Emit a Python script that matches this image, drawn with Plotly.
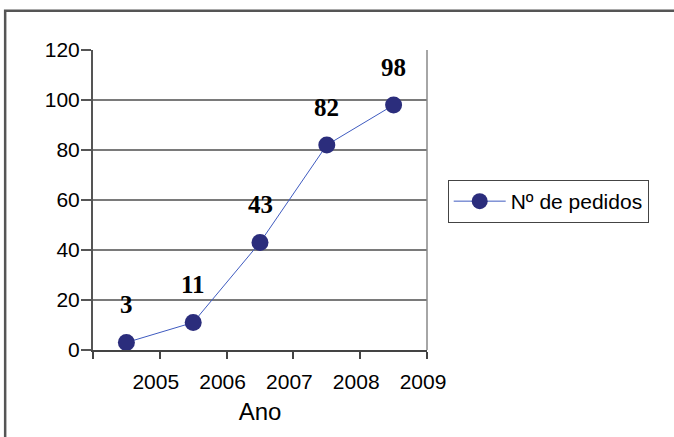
import plotly.graph_objects as go

# Data
years = ["2005", "2006", "2007", "2008", "2009"]
pedidos = [3, 11, 43, 82, 98]
series_name = "Nº de pedidos"
x_title = "Ano"
y_ticks = [0, 20, 40, 60, 80, 100, 120]

# category positions (points sit in the middle of each band)
x_pos = [i + 0.5 for i in range(len(pedidos))]
tick_pos = list(range(len(years) + 1))
tick_text = [""] + years

fig = go.Figure()
fig.add_trace(go.Scatter(
    x=x_pos, y=pedidos, mode="lines+markers", name=series_name,
    line=dict(color="#3F5BC0", width=1),
    marker=dict(color="#2B2D7C", size=17, line=dict(width=0)),
))

for xv, yv in zip(x_pos, pedidos):
    fig.add_annotation(
        x=xv, y=yv, text="<b>" + str(yv) + "</b>", showarrow=False, yshift=38,
        font=dict(family="Liberation Serif, Times New Roman", size=25, color="black"),
    )

fig.update_layout(
    width=674, height=437,
    margin=dict(l=93, r=247, t=50, b=87),
    paper_bgcolor="white", plot_bgcolor="white",
    font=dict(family="Liberation Sans, Arial", size=21, color="black"),
    showlegend=True,
    legend=dict(
        x=1.062, y=0.495, xanchor="left", yanchor="middle",
        bordercolor="#444", borderwidth=1, bgcolor="white",
        itemwidth=52,
        font=dict(size=21, family="Liberation Sans, Arial"),
    ),
    xaxis=dict(
        range=[0, len(years)], tickvals=tick_pos, ticktext=tick_text,
        showgrid=False, zeroline=False,
        showline=True, linecolor="#444", linewidth=2,
        ticks="outside", ticklen=7, tickcolor="#444", tickwidth=1.5,
        ticklabelshift=-4, ticklabelstandoff=5,
        tickfont=dict(size=21),
        title=dict(text=x_title, font=dict(size=24), standoff=11),
    ),
    yaxis=dict(
        range=[0, 120], tickvals=y_ticks,
        showgrid=True, gridcolor="#7a7a7a", gridwidth=1.5,
        zeroline=False,
        showline=True, linecolor="#555", linewidth=2,
        ticks="outside", ticklen=10, tickcolor="#555", tickwidth=1.5,
        ticklabelstandoff=-3,
        tickfont=dict(size=21),
    ),
    shapes=[
        dict(type="line", xref="paper", yref="paper", x0=1, x1=1, y0=0, y1=1,
             line=dict(color="#888", width=1.5)),
        dict(type="rect", xref="paper", yref="paper",
             x0=-0.263, x1=1.8, y0=-0.4, y1=1.131,
             line=dict(color="#555", width=2.5)),
    ],
)

fig.write_html(
    "out.html",
    config={"displayModeBar": False},
    post_script="document.body.style.margin='0';document.body.style.overflow='hidden';",
)
